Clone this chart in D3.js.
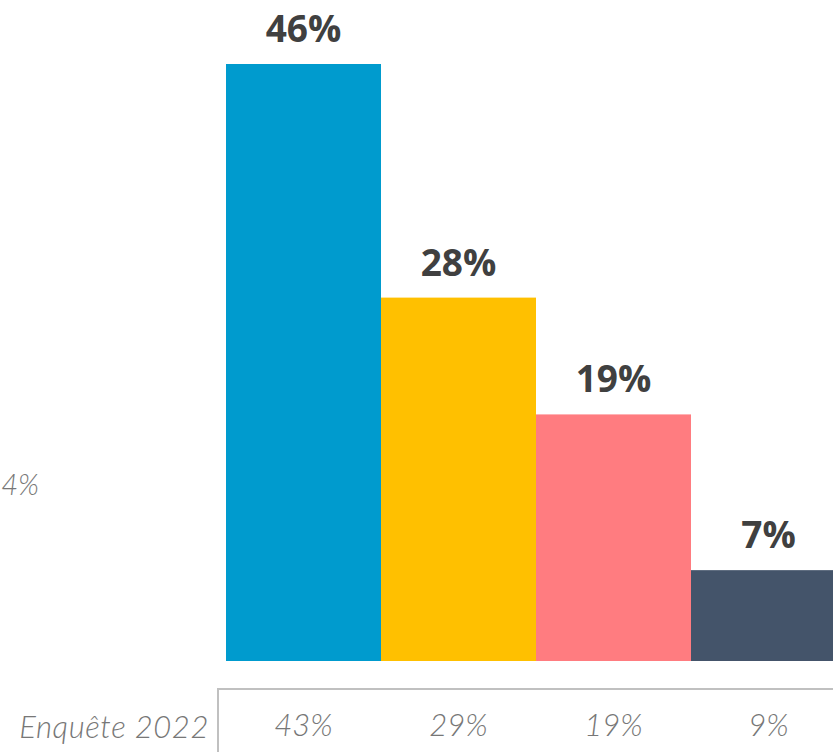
<!DOCTYPE html>
<html><head><meta charset="utf-8">
<script src="https://cdn.jsdelivr.net/npm/d3@7"></script>
<style>body{margin:0;background:#fff;overflow:hidden}</style>
</head><body>
<svg id="c" width="833" height="752"></svg>
<script>
const categories = ["A", "B", "C", "D"];
const values2024 = [46, 28, 19, 7];
const values2022 = [43, 29, 19, 9];
const colors = ["#009BCE", "#FFC000", "#FF7C80", "#44546A"];
const rowLabel = "Enquête 2022";
const leftLabel = "4%";

const svg = d3.select("#c");
const x = d3.scaleBand().domain(categories).range([226, 846]).padding(0);
const y = d3.scaleLinear().domain([0, 46]).range([661, 64]);

svg.selectAll("rect.bar").data(categories).join("rect")
  .attr("class", "bar")
  .attr("x", d => x(d))
  .attr("width", x.bandwidth())
  .attr("y", (d, i) => y(values2024[i]))
  .attr("height", (d, i) => y(0) - y(values2024[i]))
  .attr("fill", (d, i) => colors[i]);

svg.selectAll("text.val").data(categories).join("text")
  .attr("class", "val")
  .attr("x", d => x(d) + x.bandwidth() / 2)
  .attr("y", (d, i) => y(values2024[i]) - 22)
  .attr("text-anchor", "middle")
  .attr("font-family", "'Open Sans', sans-serif")
  .attr("font-weight", "bold")
  .attr("font-size", 37)
  .attr("fill", "#404040")
  .text((d, i) => values2024[i] + "%");

// table row
svg.append("path")
  .attr("d", `M218,752 V689 H833`)
  .attr("fill", "none")
  .attr("stroke", "#C0C0C0")
  .attr("stroke-width", 2);

const italicFont = sel => sel
  .attr("font-family", "Lato, sans-serif")
  .attr("font-style", "italic")
  .attr("font-weight", 300)
  .attr("font-size", 31)
  .attr("fill", "#777777");

svg.selectAll("text.old").data(categories).join("text")
  .attr("class", "old")
  .attr("x", d => x(d) + x.bandwidth() / 2)
  .attr("y", 736)
  .attr("text-anchor", "middle")
  .call(italicFont)
  .text((d, i) => values2022[i] + "%");

svg.append("text")
  .attr("x", 209).attr("y", 738)
  .attr("text-anchor", "end")
  .call(italicFont)
  .attr("letter-spacing", 0.6)
  .text(rowLabel);

svg.append("text")
  .attr("x", 39).attr("y", 495)
  .attr("text-anchor", "end")
  .call(italicFont)
  .attr("font-size", 29)
  .text(leftLabel);
</script>
</body></html>
